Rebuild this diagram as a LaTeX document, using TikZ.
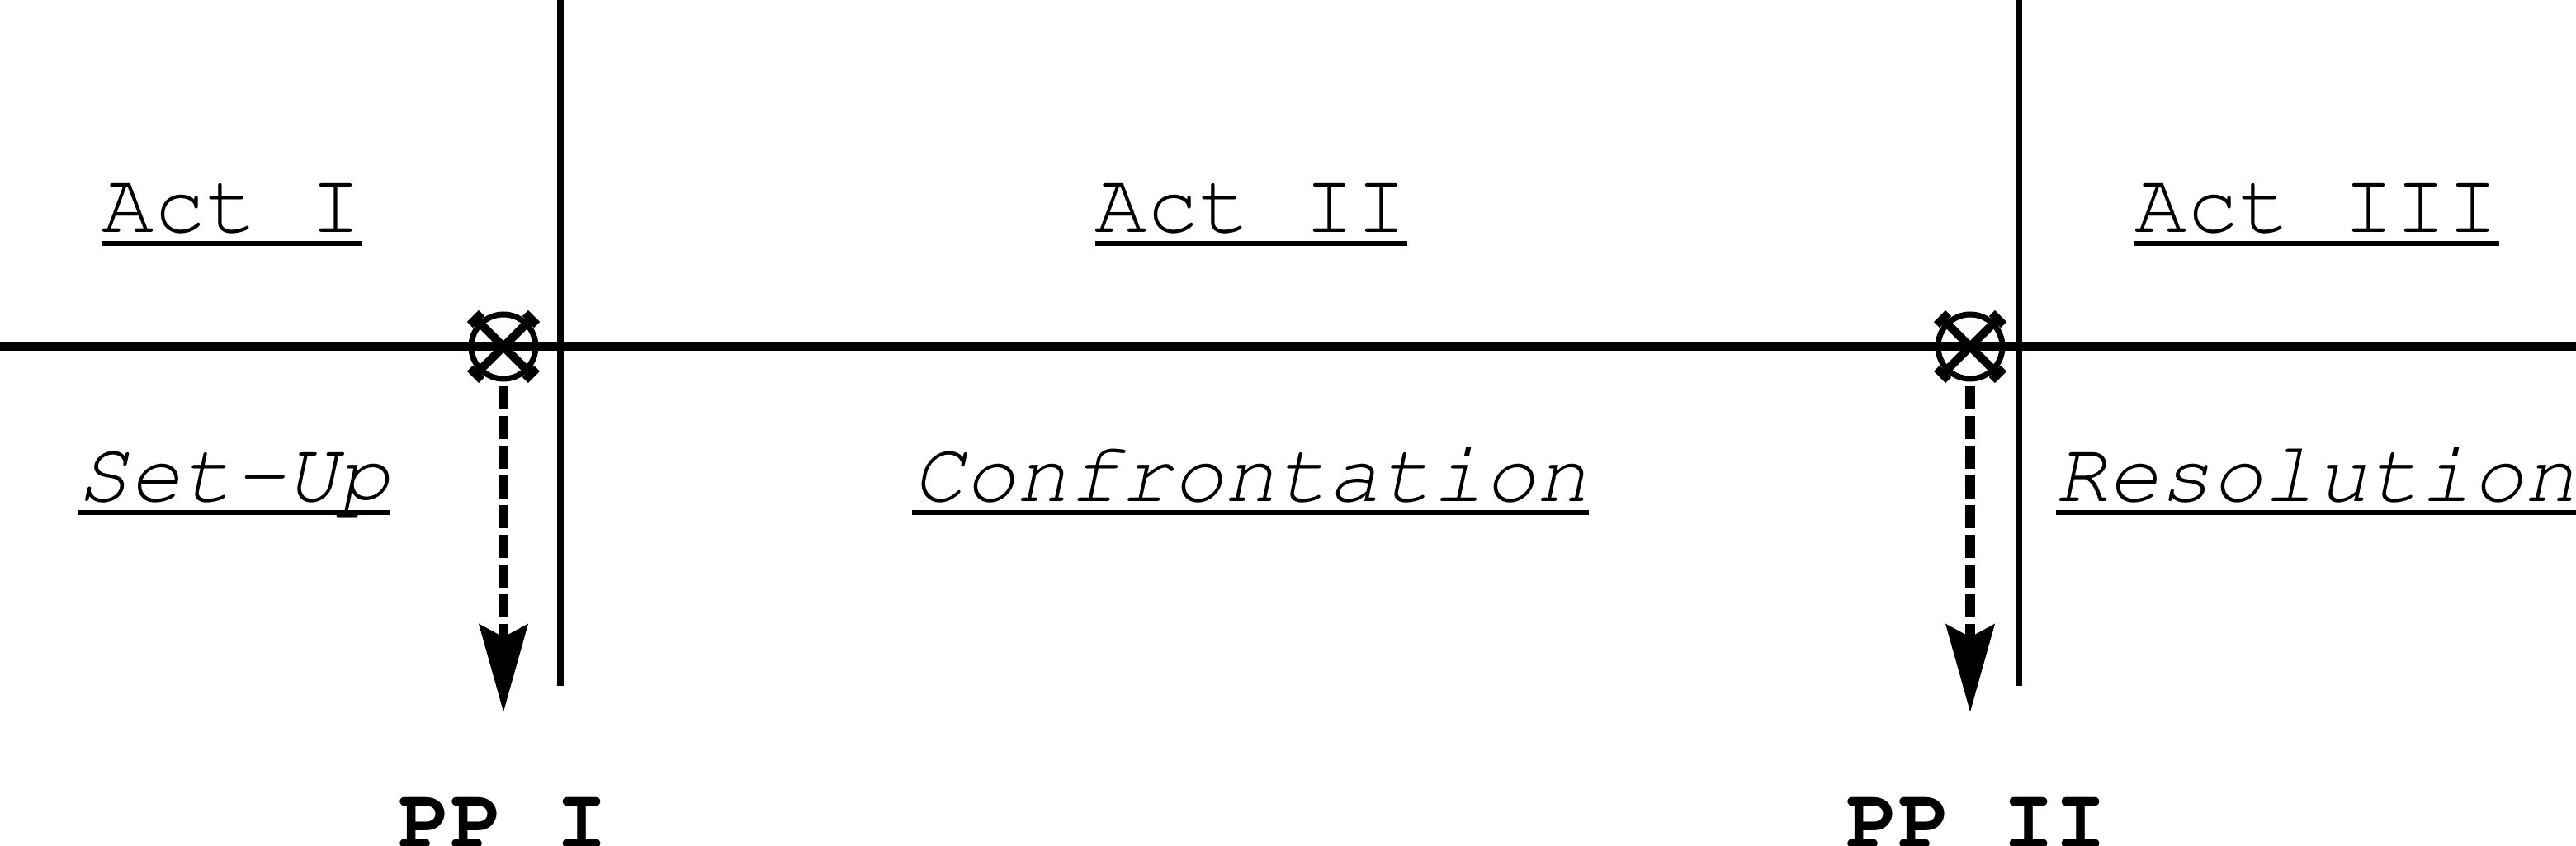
\documentclass[tikz,border=0pt]{standalone}
\usepackage[T1]{fontenc}
\usetikzlibrary{arrows.meta}
% underline with a heavier rule, as wide as the text box
\newcommand{\actrule}[1]{\setbox0\hbox{#1}\rlap{\rule[-0.16cm]{\wd0}{0.06cm}}\box0}

\begin{document}
\begin{tikzpicture}[
  line join=miter,
  axis/.style={line width=0.11cm},
  divider/.style={line width=0.08cm},
  ring/.style={circle, draw, line width=0.07cm, minimum size=0.78cm, inner sep=0pt},
  crossarm/.style={line width=0.1cm, {Bar[width=0.2cm]}-{Bar[width=0.2cm]}},
  ppdrop/.style={line width=0.12cm, dash pattern=on 0.28cm off 0.08cm,
    shorten <=0.06cm, -{Stealth[length=1.06cm, width=0.58cm, inset=0.15cm]}},
  lbl/.style={inner sep=0pt, anchor=base,
    font=\fontfamily{pcr}\fontsize{29.9}{36}\selectfont},
  actlbl/.style={lbl},
  partlbl/.style={lbl, font=\fontfamily{pcr}\fontsize{29.9}{36}\selectfont\itshape},
  pplbl/.style={lbl, font=\fontfamily{pcr}\fontsize{29.9}{36}\selectfont\bfseries},
]
\useasboundingbox (0,0) rectangle (31.21,10.25);

% ── the time line and the two act borders ─────────────────────────────────
\draw[axis] (0,6.05) -- (31.21,6.05);
\draw[divider] (6.79,10.25) -- (6.79,1.94);
\draw[divider] (24.46,10.25) -- (24.46,1.94);

% ── act titles above, parts below ─────────────────────────────────────────
\node[actlbl] (act1) at (2.81,7.43) {\actrule{Act I}};
\node[actlbl] (act2) at (15.16,7.43) {\actrule{Act II}};
\node[actlbl] (act3) at (28.07,7.43) {\actrule{Act III}};

\node[partlbl] (setup) at (2.83,4.17) {\actrule{Set-Up}};
\node[partlbl] (confront) at (15.15,4.17) {\actrule{Confrontation}};
\node[partlbl] (resolve) at (28.06,4.17) {\actrule{Resolution}};

% ── plot points: crossed rings on the line, dropping to their names ───────
\node[ring] (pp1) at (6.10,6.05) {};
\node[ring] (pp2) at (23.87,6.05) {};
\foreach \p in {pp1,pp2} {
  \draw[crossarm] ([shift={(-0.37,0.37)}]\p.center) -- ([shift={(0.37,-0.37)}]\p.center);
  \draw[crossarm] ([shift={(-0.37,-0.37)}]\p.center) -- ([shift={(0.37,0.37)}]\p.center);
}

\coordinate (pp1tip) at (6.10,1.62);
\coordinate (pp2tip) at (23.87,1.62);
\draw[ppdrop] (pp1.south) -- (pp1tip);
\draw[ppdrop] (pp2.south) -- (pp2tip);

\node[pplbl] (pp1lbl) at (6.10,-0.03) {PP I};
\node[pplbl] (pp2lbl) at (23.95,-0.03) {PP II};

\end{tikzpicture}
\end{document}
